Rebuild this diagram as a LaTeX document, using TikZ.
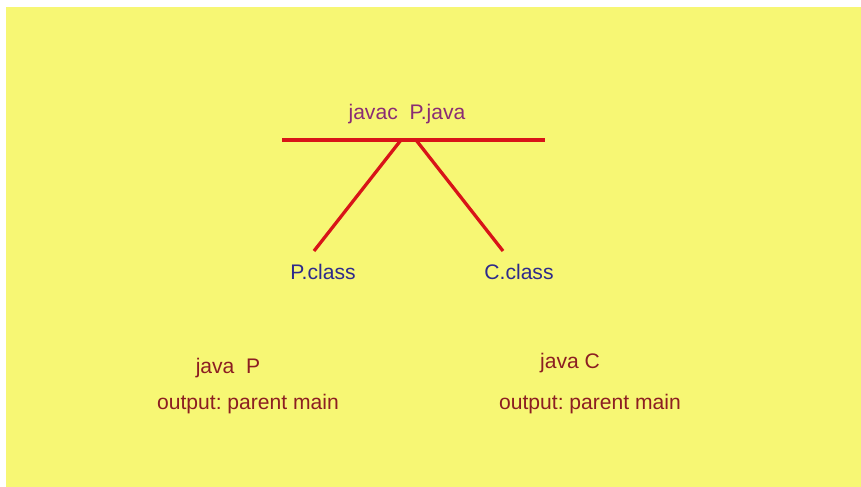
\documentclass[tikz,border=0pt]{standalone}
\usepackage{fontspec}
\setmainfont{Liberation Sans}
\usepackage{tikz}
\frenchspacing

\definecolor{slideyellow}{HTML}{F7F774}
\definecolor{cmdpurple}{HTML}{8A2C74}
\definecolor{filenavy}{HTML}{2E2A8C}
\definecolor{runred}{HTML}{8C1E22}
\definecolor{barred}{HTML}{D81418}

\tikzset{
  cmd/.style={text=cmdpurple, font=\fontsize{18}{20}\selectfont, inner sep=0pt},
  classfile/.style={text=filenavy, font=\fontsize{18}{20}\selectfont, inner sep=0pt},
  run/.style={text=runred, font=\fontsize{18}{20}\selectfont, inner sep=0pt},
  bar/.style={draw=barred, line width=2.8pt}
}

\begin{document}
\begin{tikzpicture}[x=0.03cm, y=-0.03cm]
  \useasboundingbox (0,0) rectangle (861,487);
  \fill[slideyellow] (6,7) rectangle (861,487);

  % compile step
  \node[cmd] (javac) at (407,114) {javac\ \ P.java};
  \coordinate (barL) at (282,140);
  \coordinate (barR) at (545,140);
  \coordinate (forkP) at (401,140);
  \coordinate (forkC) at (416,140);
  \draw[bar] (barL) -- (barR);

  % generated class files
  \node[classfile] (pclass) at (323,272) {P.class};
  \node[classfile] (cclass) at (519,272) {C.class};
  \coordinate (endP) at (314,251);
  \coordinate (endC) at (503,251);
  \draw[bar] (forkP) -- (endP);
  \draw[bar] (forkC) -- (endC);

  % running them
  \node[run] (javaP) at (228,368) {java\ \ P};
  \node[run] (outP) at (248,404) {output: parent main};
  \node[run] (javaC) at (570,363) {java C};
  \node[run] (outC) at (590,404) {output: parent main};
\end{tikzpicture}
\end{document}
